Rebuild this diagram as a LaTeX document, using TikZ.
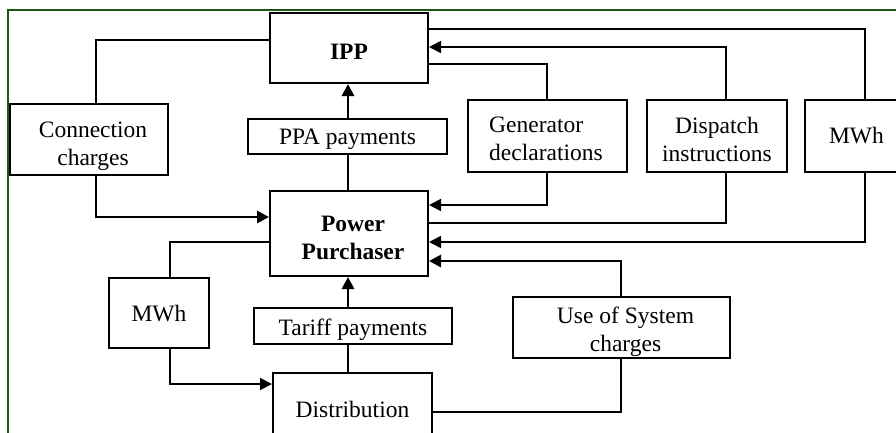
\documentclass[tikz,border=0pt]{standalone}
\usepackage{fontspec}
\setmainfont{Liberation Serif}
\usetikzlibrary{arrows.meta}
\definecolor{framegreen}{RGB}{30,85,30}
\begin{document}
\begin{tikzpicture}[x=1pt,y=-1pt,
  box/.style={draw, line width=2pt, inner sep=0pt},
  lbl/.style={inner sep=0pt, align=center,
    font=\fontsize{23.5}{28}\selectfont},
  thin link/.style={line width=1.7pt},
  thick link/.style={line width=2.8pt},
  tip/.style={-{Triangle[length=12pt,width=12pt]}}
]
\useasboundingbox (0,0) rectangle (896,432);
\begin{scope}
\clip (0,0) rectangle (896,432);
% outer frame (only top and left edges fall inside the page)
\draw[framegreen, line width=1.5pt] (8,440) -- (8,10) -- (900,10);

% boxes
\node[box, minimum width=158pt, minimum height=70pt] (ipp) at (349,48) {};
\node[box, minimum width=158pt, minimum height=71pt] (cc) at (89,139.5) {};
\node[box, minimum width=199pt, minimum height=35pt] (ppa) at (347.5,136.5) {};
\node[box, minimum width=159pt, minimum height=72pt] (gen) at (547.5,136) {};
\node[box, minimum width=140pt, minimum height=72pt] (disp) at (717,136) {};
\node[box, minimum width=103pt, minimum height=72pt] (mwr) at (856.5,136) {};
\node[box, minimum width=158pt, minimum height=85pt] (pp) at (349,233.5) {};
\node[box, minimum width=100pt, minimum height=70pt] (mwl) at (159,313) {};
\node[box, minimum width=198pt, minimum height=36pt] (tar) at (353,326) {};
\node[box, minimum width=217pt, minimum height=61pt] (uos) at (621.5,327.5) {};
\node[box, minimum width=159pt, minimum height=72pt] (dist) at (352.5,409) {};

% box texts
\node[lbl, font=\fontsize{23.5}{28}\selectfont\bfseries] (ipp-t) at ([yshift=-4pt]ipp.center) {IPP};
\node[lbl] (cc-t) at ([xshift=4pt,yshift=-7pt]cc.center) {Connection\\charges};
\node[lbl] (ppa-t) at ([yshift=-3pt]ppa.center) {PPA payments};
\node[lbl, align=left, anchor=west] (gen-t) at ([xshift=22pt,yshift=-3pt]gen.west) {Generator\\declarations};
\node[lbl] (disp-t) at ([yshift=-3pt]disp.center) {Dispatch\\instructions};
\node[lbl] (mwr-t) at (mwr.center) {MWh};
\node[lbl, font=\fontsize{23.5}{28}\selectfont\bfseries] (pp-t) at ([xshift=4pt,yshift=-4pt]pp.center) {Power\\Purchaser};
\node[lbl] (mwl-t) at ([yshift=-1pt]mwl.center) {MWh};
\node[lbl] (tar-t) at ([yshift=-4pt]tar.center) {Tariff payments};
\node[lbl] (uos-t) at ([xshift=4pt,yshift=-4pt]uos.center) {Use of System\\charges};
\node[lbl] (dist-t) at (dist.center) {Distribution};

% connector columns and rows
\coordinate (xcc) at (96,0);
\coordinate (xgen) at (547,0);
\coordinate (xdisp) at (726,0);
\coordinate (xmwh) at (865,0);
\coordinate (xmwl) at (170,0);
\coordinate (xuos) at (621,0);
\coordinate (xmid) at (348,0);
\coordinate (ya) at (0,29);
\coordinate (yb) at (0,40);
\coordinate (yc) at (0,47);
\coordinate (yd) at (0,64);
\coordinate (ye) at (0,205);
\coordinate (yf) at (0,217);
\coordinate (yg) at (0,223);
\coordinate (yh) at (0,242);
\coordinate (yi) at (0,261);
\coordinate (yj) at (0,384);
\coordinate (yk) at (0,412);

% connectors
\draw[thin link] (ipp.west |- yb) -| (cc.north -| xcc);
\draw[thick link, tip] (cc.south -| xcc) |- (pp.west |- yf);
\draw[thick link] (pp.north -| xmid) -- (ppa.south -| xmid);
\draw[thick link, tip] (ppa.north -| xmid) -- (ipp.south -| xmid);
\draw[thin link] (ipp.east |- yd) -| (gen.north -| xgen);
\draw[thin link, tip] (gen.south -| xgen) |- (pp.east |- ye);
\draw[thin link, tip] (disp.north -| xdisp) |- (ipp.east |- yc);
\draw[thin link] (pp.east |- yg) -| (disp.south -| xdisp);
\draw[thin link] (ipp.east |- ya) -| (mwr.north -| xmwh);
\draw[thin link, tip] (mwr.south -| xmwh) |- (pp.east |- yh);
\draw[thin link] (pp.west |- yh) -| (mwl.north -| xmwl);
\draw[thin link, tip] (mwl.south -| xmwl) |- (dist.west |- yj);
\draw[thick link] (dist.north -| xmid) -- (tar.south -| xmid);
\draw[thick link, tip] (tar.north -| xmid) -- (pp.south -| xmid);
\draw[thick link] (dist.east |- yk) -| (uos.south -| xuos);
\draw[thick link, tip] (uos.north -| xuos) |- (pp.east |- yi);
\end{scope}
\end{tikzpicture}
\end{document}
